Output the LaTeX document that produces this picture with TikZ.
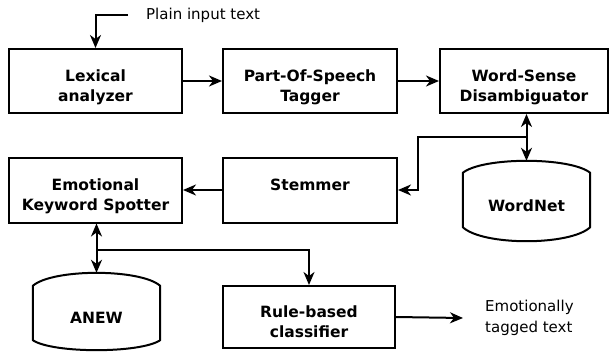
\documentclass[tikz,border=0pt]{standalone}
\usepackage{fontspec}
\setmainfont{DejaVu Sans}
\usetikzlibrary{arrows.meta,calc}

\tikzset{
  line/.style={line width=2pt},
  arr/.style={line, -{Stealth[length=13pt,width=11pt,inset=4pt]}},
  biarr/.style={line, {Stealth[length=13pt,width=11pt,inset=4pt]}-{Stealth[length=13pt,width=11pt,inset=4pt]}},
  % every box holds a two-line label; fixed height/depth keeps the lines level
  stepbox/.style={draw, line, rectangle, inner sep=0pt, align=center,
    font=\fontsize{15.5pt}{20pt}\selectfont\bfseries,
    text height=44.8pt, text depth=3.5pt},
  dbshape/.style={inner sep=0pt},
  dblabel/.style={inner sep=0pt, anchor=base, font=\fontsize{15.5pt}{20pt}\selectfont\bfseries},
  plain/.style={inner sep=0pt, align=left, font=\fontsize{15pt}{20.5pt}\selectfont},
}

\begin{document}
\begin{tikzpicture}[x=1pt, y=-1pt]
  \useasboundingbox (0,0) rectangle (610,351);

  % processing stages
  \node[stepbox, minimum width=173pt, minimum height=64pt] (lex)  at (95.5,81)  {Lexical\\analyzer};
  \node[stepbox, minimum width=174pt, minimum height=64pt] (pos)  at (310,81)   {Part-Of-Speech\\Tagger};
  \node[stepbox, minimum width=168pt, minimum height=64pt] (wsd)  at (524,81)   {Word-Sense\\Disambiguator};
  \node[stepbox, minimum width=174pt, minimum height=65pt] (stem) at (310,190)  {Stemmer\\\mbox{}};
  \node[stepbox, minimum width=173pt, minimum height=65pt] (eks)  at (95.5,190) {Emotional\\Keyword Spotter};
  \node[stepbox, minimum width=172pt, minimum height=62pt] (rule) at (309,317)  {Rule-based\\classifier};

  % lexical databases
  \node[dbshape, minimum width=127pt, minimum height=80pt] (wn) at (526.5,201) {};
  \node[dbshape, minimum width=127pt, minimum height=77pt] (an) at (96.5,311.5) {};
  \node[dblabel] (wnlabel) at ($(wn)+(0,10)$) {WordNet};
  \node[dblabel] (anlabel) at ($(an)+(0,12)$) {ANEW};

  \draw[line, line join=round]
    ($(wn.north west)+(0,12)$) .. controls ($(wn.north west)+(20,-4)$) and ($(wn.north east)+(-20,-4)$) .. ($(wn.north east)+(0,12)$)
    -- ($(wn.south east)+(0,-14)$)
    .. controls ($(wn.south east)+(-20,4.7)$) and ($(wn.south west)+(20,4.7)$) .. ($(wn.south west)+(0,-14)$)
    -- cycle;
  \draw[line, line join=round]
    ($(an.north west)+(0,13)$) .. controls ($(an.north west)+(20,-4.3)$) and ($(an.north east)+(-20,-4.3)$) .. ($(an.north east)+(0,13)$)
    -- ($(an.south east)+(0,-10)$)
    .. controls ($(an.south east)+(-20,3.3)$) and ($(an.south west)+(20,3.3)$) .. ($(an.south west)+(0,-10)$)
    -- cycle;

  % input and output texts
  \node[plain, anchor=west] (intxt)  at (146,15)  {Plain input text};
  \node[plain, anchor=west] (outtxt) at (485,318) {Emotionally\\tagged text};

  % connectors
  \draw[arr] ([xshift=-18pt]intxt.west) -| (lex.north);
  \draw[arr] (lex) -- (pos);
  \draw[arr] (pos) -- (wsd);
  \draw[biarr] (wn.north |- wsd.south) -- (wn.north);
  \coordinate (wsdjoin) at ($(wn.north |- wsd.south)+(0,23)$);
  \draw[arr] (wsdjoin) -| ($(stem.east)+(20,0)$) -- (stem.east);
  \draw[arr] (stem) -- (eks);
  \draw[biarr] (an.north |- eks.south) -- (an.north);
  \coordinate (eksjoin) at ($(an.north |- eks.south)+(0,26)$);
  \draw[arr] (eksjoin) -| (rule.north);
  \draw[arr] (rule.east) -- ([xshift=-22pt]outtxt.west);
\end{tikzpicture}
\end{document}
